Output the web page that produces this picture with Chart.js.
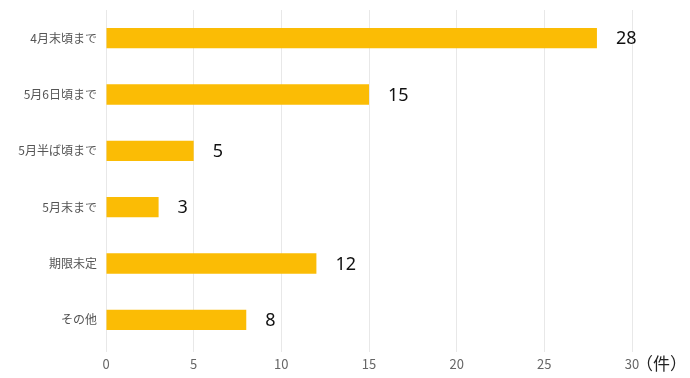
<!DOCTYPE html>
<html>
<head>
<meta charset="utf-8">
<script src="https://cdn.jsdelivr.net/npm/chart.js@4"></script>
<style>
  html, body { margin: 0; padding: 0; background: #fff; }
  #wrap { width: 690px; height: 378px; }
</style>
</head>
<body>
<div id="wrap"><canvas id="myChart"></canvas></div>
<script>
var categories = ['4月末頃まで', '5月6日頃まで', '5月半ば頃まで', '5月末まで', '期限未定', 'その他'];
var counts = [28, 15, 5, 3, 12, 8];
var xTicks = [0, 5, 10, 15, 20, 25, 30];
var unitLabel = '（件）';

var FONT = "'Noto Sans CJK JP', 'Noto Sans', sans-serif";

// values next to the bar ends + unit label on the x axis
var labelPlugin = {
  id: 'labels',
  afterDatasetsDraw: function(chart) {
    var ctx = chart.ctx;
    var meta = chart.getDatasetMeta(0);
    ctx.save();
    ctx.fillStyle = '#111';
    ctx.font = "18px 'Noto Sans', sans-serif";
    ctx.textBaseline = 'middle';
    ctx.textAlign = 'left';
    meta.data.forEach(function(bar, i) {
      ctx.fillText(counts[i], bar.x + 19, bar.y + 1);
    });
    var xs = chart.scales.x;
    ctx.font = "17px " + FONT;
    ctx.fillStyle = '#222';
    ctx.fillText(unitLabel, xs.getPixelForValue(30) + 4, 364);
    ctx.restore();
  }
};

var ctx = document.getElementById('myChart').getContext('2d');
var myChart = new Chart(ctx, {
  type: 'bar',
  data: {
    labels: categories,
    datasets: [{
      data: counts,
      backgroundColor: '#fbbc05',
      borderWidth: 0,
      categoryPercentage: 1.0,
      barPercentage: 0.36
    }]
  },
  options: {
    indexAxis: 'y',
    responsive: true,
    maintainAspectRatio: false,
    animation: false,
    layout: { padding: { top: 10, right: 58, bottom: 0, left: 6 } },
    plugins: { legend: { display: false }, tooltip: { enabled: false } },
    scales: {
      x: {
        min: 0,
        max: 30,
        afterBuildTicks: function(axis) {
          axis.ticks = xTicks.map(function(v) { return { value: v }; });
        },
        afterFit: function(axis) { axis.height = 30; },
        grid: { color: '#e8e8e8', drawTicks: true, tickLength: 4 },
        border: { display: false },
        ticks: { color: '#666', font: { family: FONT, size: 13 }, padding: 4 }
      },
      y: {
        afterFit: function(axis) {
          axis.width = 100;
          axis.paddingTop = 0;
          axis.paddingBottom = 0;
        },
        grid: { display: false, drawTicks: false },
        border: { display: false },
        ticks: { color: '#555', font: { family: FONT, size: 12 }, padding: 9 }
      }
    }
  },
  plugins: [labelPlugin]
});
</script>
</body>
</html>
